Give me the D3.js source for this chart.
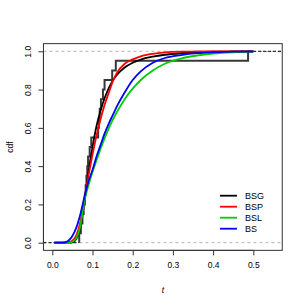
<!DOCTYPE html>
<html>
<head>
<meta charset="utf-8">
<script src="https://cdn.jsdelivr.net/npm/d3@7"></script>
<style>
body { margin: 0; background: #fff; }
text { font-family: "Liberation Sans", Arial, sans-serif; }
</style>
</head>
<body>
<div id="chart"></div>
<script>
// sorted observations for the empirical cdf
var obs = [0.067, 0.071, 0.075, 0.078, 0.081, 0.083, 0.085, 0.087, 0.089, 0.093,
           0.097, 0.114, 0.116, 0.118, 0.121, 0.126, 0.130, 0.149, 0.158, 0.487];

// fitted cdf curves
var tGrid = [0.005, 0.02, 0.03, 0.04, 0.05, 0.06, 0.07, 0.08, 0.09, 0.10, 0.11, 0.12, 0.13,
             0.14, 0.15, 0.16, 0.18, 0.20, 0.22, 0.25, 0.28, 0.32, 0.36, 0.40, 0.45, 0.50];
var bsg = [0, 0, 0, 0, 0.002, 0.02, 0.08, 0.22, 0.37, 0.50, 0.61, 0.69, 0.755,
           0.805, 0.845, 0.875, 0.915, 0.94, 0.957, 0.972, 0.982, 0.99, 0.995, 0.998, 0.999, 1];
var bsp = [0, 0, 0, 0.002, 0.01, 0.04, 0.11, 0.23, 0.35, 0.46, 0.56, 0.645, 0.72,
           0.78, 0.84, 0.885, 0.935, 0.958, 0.974, 0.987, 0.994, 0.998, 0.999, 1, 1, 1];
var bsl = [0, 0, 0, 0, 0.005, 0.025, 0.09, 0.22, 0.30, 0.37, 0.43, 0.49, 0.545,
           0.595, 0.64, 0.68, 0.75, 0.805, 0.85, 0.90, 0.935, 0.962, 0.978, 0.988, 0.995, 0.998];
var bs = [0, 0, 0.001, 0.01, 0.035, 0.08, 0.15, 0.24, 0.32, 0.38, 0.45, 0.51, 0.57,
          0.62, 0.665, 0.71, 0.785, 0.85, 0.895, 0.94, 0.965, 0.98, 0.99, 0.995, 0.998, 0.999];

var legendNames = ["BSG", "BSP", "BSL", "BS"];
var legendColors = ["#000000", "#FF0000", "#00CD00", "#0000FF"];
var xTicks = [0, 0.1, 0.2, 0.3, 0.4, 0.5];
var yTicks = [0, 0.2, 0.4, 0.6, 0.8, 1];

var svg = d3.select("#chart").append("svg")
    .attr("width", 305)
    .attr("height", 305);

var x = d3.scaleLinear().domain([0, 0.5]).range([52.3, 253.3]);
var y = d3.scaleLinear().domain([0, 1]).range([242.7, 51.3]);
var xMin = -0.022, xMax = 0.572, yMin = -0.04, yMax = 1.04;

// gray dashed reference lines at 0 and 1
svg.selectAll("line.ref")
    .data([0, 1])
    .enter().append("line")
    .attr("x1", x(xMin)).attr("x2", x(xMax))
    .attr("y1", function(d) { return y(d); })
    .attr("y2", function(d) { return y(d); })
    .attr("stroke", "#b3b3b3")
    .attr("stroke-width", 1)
    .attr("stroke-dasharray", "3,3");

// empirical cdf
var n = obs.length;
var stepPts = [[obs[0], 0]].concat(obs.map(function(d, i) { return [d, (i + 1) / n]; }));
var stepLine = d3.line()
    .x(function(d) { return x(d[0]); })
    .y(function(d) { return y(d[1]); })
    .curve(d3.curveStepAfter);
svg.append("path")
    .attr("d", stepLine(stepPts))
    .attr("fill", "none")
    .attr("stroke", "#383838")
    .attr("stroke-width", 2);
svg.selectAll("line.tail")
    .data([[xMin, obs[0], 0], [obs[n - 1], xMax, 1]])
    .enter().append("line")
    .attr("x1", function(d) { return x(d[0]); })
    .attr("x2", function(d) { return x(d[1]); })
    .attr("y1", function(d) { return y(d[2]); })
    .attr("y2", function(d) { return y(d[2]); })
    .attr("stroke", "#000")
    .attr("stroke-width", 1)
    .attr("stroke-dasharray", "3,2");

// fitted curves
var curves = [bsg, bsp, bsl, bs];
var line = d3.line()
    .x(function(d, i) { return x(tGrid[i]); })
    .y(function(d) { return y(d); })
    .curve(d3.curveMonotoneX);
svg.selectAll("path.curve")
    .data(curves)
    .enter().append("path")
    .attr("class", "curve")
    .attr("d", line)
    .attr("fill", "none")
    .attr("stroke", function(d, i) { return legendColors[i]; })
    .attr("stroke-width", 1.8);

// box
svg.append("rect")
    .attr("x", x(xMin)).attr("y", y(yMax))
    .attr("width", x(xMax) - x(xMin))
    .attr("height", y(yMin) - y(yMax))
    .attr("fill", "none")
    .attr("stroke", "#333")
    .attr("stroke-width", 1);

// axes
var xAxis = d3.axisBottom(x).tickValues(xTicks).tickFormat(d3.format(".1f")).tickSize(5).tickPadding(7);
var gx = svg.append("g").attr("transform", "translate(0," + y(yMin) + ")").call(xAxis);
gx.select(".domain").attr("d", "M" + x(0) + ",0H" + x(0.5)).attr("stroke", "#333");
gx.selectAll(".tick line").attr("stroke", "#333");
gx.selectAll("text").attr("font-size", 8.5).attr("fill", "#000")
    .attr("font-family", "Liberation Sans, Arial, sans-serif");

var yAxis = d3.axisLeft(y).tickValues(yTicks).tickFormat(d3.format(".1f")).tickSize(5);
var gy = svg.append("g").attr("transform", "translate(" + x(xMin) + ",0)").call(yAxis);
gy.select(".domain").attr("d", "M0," + y(0) + "V" + y(1)).attr("stroke", "#333");
gy.selectAll(".tick line").attr("stroke", "#333");
gy.selectAll("text")
    .attr("font-size", 8.5).attr("fill", "#000")
    .attr("font-family", "Liberation Sans, Arial, sans-serif")
    .attr("x", null).attr("dy", null)
    .attr("text-anchor", "middle")
    .attr("transform", "translate(-12,0) rotate(-90)")
    .attr("y", 0);

// axis titles
svg.append("text")
    .attr("x", 163).attr("y", 293)
    .attr("text-anchor", "middle")
    .attr("font-size", 8.5)
    .attr("font-style", "italic")
    .text("t");
svg.append("text")
    .attr("transform", "translate(13,147) rotate(-90)")
    .attr("text-anchor", "middle")
    .attr("font-size", 8.5)
    .text("cdf");

// legend
var leg = svg.selectAll("g.legend")
    .data(legendNames)
    .enter().append("g")
    .attr("transform", function(d, i) { return "translate(220," + (195.7 + i * 11) + ")"; });
leg.append("line")
    .attr("x1", 0).attr("x2", 17)
    .attr("stroke", function(d, i) { return legendColors[i]; })
    .attr("stroke-width", 1.8);
leg.append("text")
    .attr("x", 25).attr("y", 3.3)
    .attr("font-size", 9)
    .text(function(d) { return d; });
</script>
</body>
</html>
